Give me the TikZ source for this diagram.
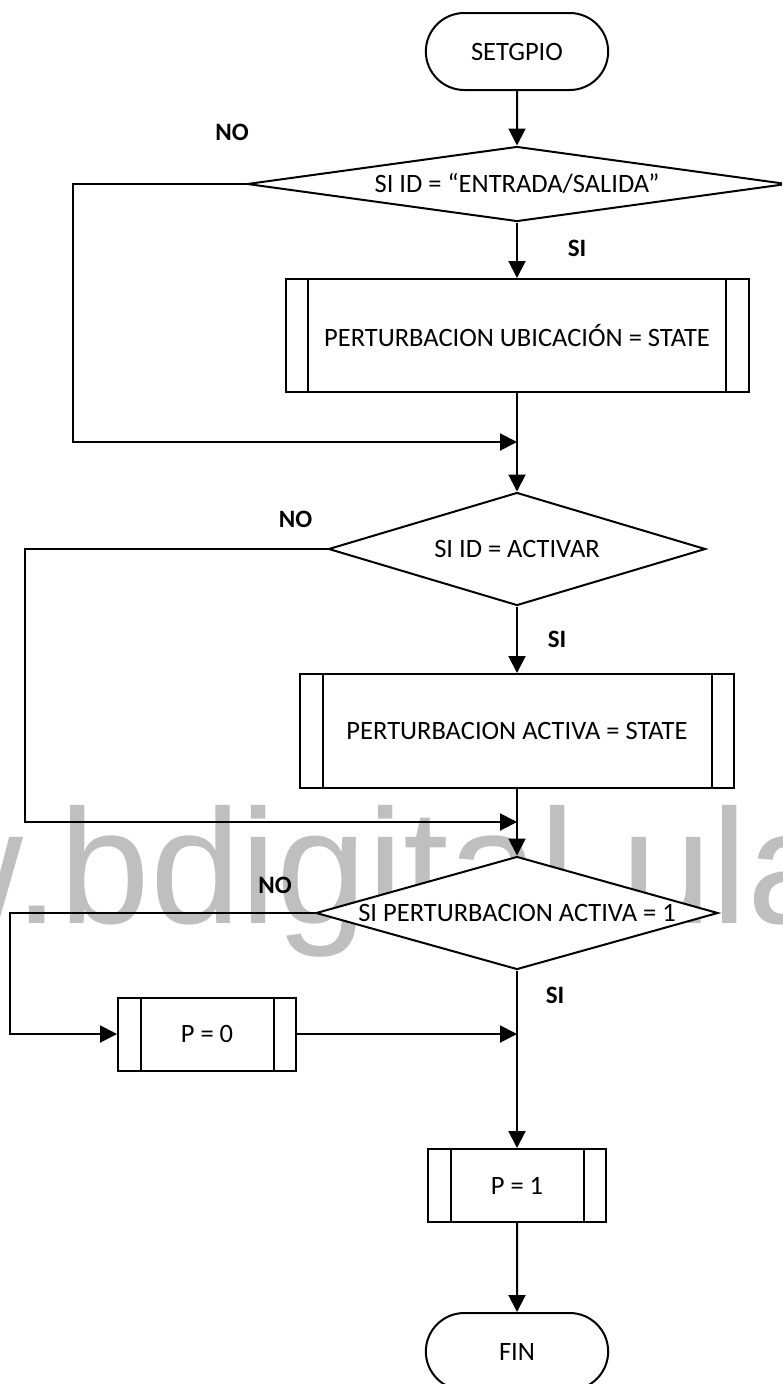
\documentclass[tikz,border=0pt]{standalone}
\usepackage{fontspec}
\setmainfont{Carlito}
\newfontfamily\wmfont{Liberation Sans}
\usetikzlibrary{arrows.meta,positioning,shapes.geometric,shapes.misc}

\newcommand{\enrombo}[1]{\makebox[0pt]{#1}}

\begin{document}
\begin{tikzpicture}[x=1pt,y=-1pt,on grid,line width=2pt,
      >={Triangle[length=17pt,width=17pt]},
      font=\fontsize{26.5}{31}\selectfont,
      term/.style={rounded rectangle,draw,fill=white,minimum width=189pt,minimum height=77pt},
      decision/.style={diamond,draw,fill=white,inner sep=0pt},
      subproc/.style={rectangle,draw,fill=white,inner sep=0pt,
        path picture={\draw[line width=2pt]
          ([xshift=22.5pt]path picture bounding box.north west) -- ([xshift=22.5pt]path picture bounding box.south west)
          ([xshift=-22.5pt]path picture bounding box.north east) -- ([xshift=-22.5pt]path picture bounding box.south east);}},
      lbl/.style={font=\fontsize{25}{30}\selectfont\bfseries}]
      \path[use as bounding box,clip] (0,0) rectangle (782,1384);
      \node[anchor=base west,inner sep=0pt,text=black!25,font=\wmfont\fontsize{163}{163}\selectfont]
        (marca) at (-331,923) {www.bdigital.ula.ve};

      \node[term] (inicio) at (517,51.5) {SETGPIO};
      \node[decision,minimum width=540pt,minimum height=75pt] (sid1) [below=132.5pt of inicio]
        {\enrombo{SI ID = “ENTRADA/SALIDA”}};
      \node[subproc,minimum width=463pt,minimum height=113pt] (ubic) [below=151.5pt of sid1]
        {PERTURBACION UBICACIÓN = STATE};
      \coordinate[below=106.5pt of ubic] (m1);
      \node[decision,minimum width=377pt,minimum height=113pt] (sid2) [below=213.5pt of ubic]
        {\enrombo{SI ID = ACTIVAR}};
      \node[subproc,minimum width=434pt,minimum height=114pt] (activa) [below=182pt of sid2]
        {PERTURBACION ACTIVA = STATE};
      \coordinate[below=91pt of activa] (m2);
      \node[decision,minimum width=402pt,minimum height=113pt] (sid3) [below=182pt of activa]
        {\enrombo{SI PERTURBACION ACTIVA = 1}};
      \coordinate[below=121pt of sid3] (m3);
      \node[subproc,minimum width=178pt,minimum height=73pt] (p0) [left=310pt of m3,anchor=center] {P = 0};
      \node[subproc,minimum width=178pt,minimum height=73pt] (p1) [below=272.5pt of sid3] {P = 1};
      \node[term] (fin) [below=166pt of p1] {FIN};

      \node[lbl] (no1) [above left=52pt and 14pt of sid1.west,anchor=center] {NO};
      \node[lbl] (si1) [below right=26pt and 60pt of sid1.south,anchor=center] {SI};
      \node[lbl] (no2) [above left=30pt and 32pt of sid2.west,anchor=center] {NO};
      \node[lbl] (si2) [below right=33pt and 40pt of sid2.south,anchor=center] {SI};
      \node[lbl] (no3) [above left=28pt and 40pt of sid3.west,anchor=center] {NO};
      \node[lbl] (si3) [below right=25pt and 38pt of sid3.south,anchor=center] {SI};

      \path[->]
        (inicio) edge (sid1)
        (sid1) edge (ubic)
        (ubic) edge (sid2)
        (sid2) edge (activa)
        (activa) edge (sid3)
        (sid3) edge (p1)
        (p0) edge (m3)
        (p1) edge (fin);
      \draw[->] (sid1.west) -- ++(-173,0) |- (m1);
      \draw[->] (sid2.west) -- ++(-303,0) |- (m2);
      \draw[->] (sid3.west) -- ++(-305,0) |- (p0);
\end{tikzpicture}
\end{document}
